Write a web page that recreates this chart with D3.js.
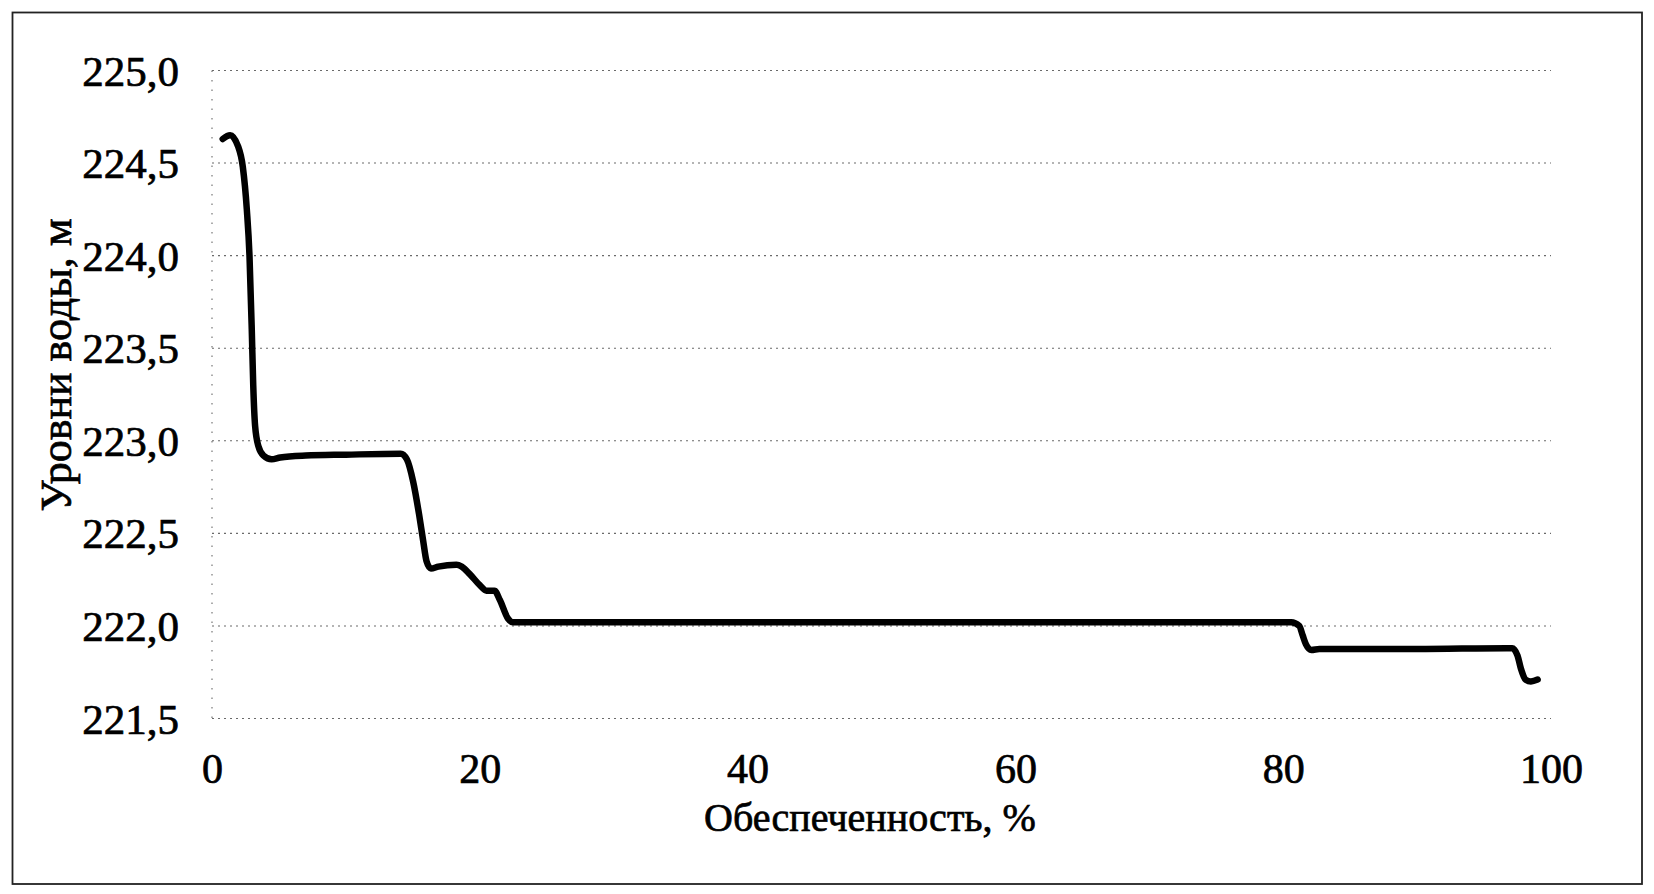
<!DOCTYPE html>
<html>
<head>
<meta charset="utf-8">
<script src="https://cdn.jsdelivr.net/npm/d3@7"></script>
<style>
  html, body { margin: 0; padding: 0; background: #fff; }
  svg { display: block; }
  text { font-family: "Liberation Serif", "Times New Roman", serif; fill: #000; stroke: #000; stroke-width: 0.7px; }
</style>
</head>
<body>
<svg id="chart" width="1654" height="894"></svg>
<script>
// ---- Data ----
const percent = [0.8, 1.35, 1.95, 2.3, 2.6, 2.8, 2.97, 3.08, 3.22, 3.47, 3.85, 4.45, 5.1, 7.0, 10.0, 14.1,
  14.55, 15.02, 15.47, 15.77, 16.02, 16.35, 16.9, 18.25, 18.65, 19.25, 20.0, 20.5, 21.1, 21.5, 22.1, 22.45,
  23.0, 40.0, 60.0, 80.6, 81.2, 81.45, 81.7, 82.1, 82.7, 90.0, 96.7, 97.1, 97.5, 97.75, 98.1, 98.5, 99.0];
const level = [224.63, 224.65, 224.59, 224.48, 224.25, 224.0, 223.6, 223.3, 223.08, 222.97, 222.92, 222.9, 222.91, 222.92, 222.925, 222.93,
  222.9, 222.78, 222.6, 222.46, 222.35, 222.31, 222.32, 222.33, 222.32, 222.28, 222.22, 222.19, 222.19, 222.14, 222.04, 222.02,
  222.02, 222.02, 222.02, 222.02, 222.0, 221.95, 221.9, 221.87, 221.875, 221.875, 221.88, 221.88, 221.84, 221.77, 221.71, 221.70, 221.71];
const xTicks = [0, 20, 40, 60, 80, 100];
const yTicks = [221.5, 222.0, 222.5, 223.0, 223.5, 224.0, 224.5, 225.0];
const xTitle = "Обеспеченность, %";
const yTitle = "Уровни воды, м";

// ---- Layout ----
const svg = d3.select("#chart");
const x = d3.scaleLinear().domain([0, 100]).range([212, 1551]);
const y = d3.scaleLinear().domain([221.5, 225]).range([718.5, 70.5]);
const fmt = v => d3.format(".1f")(v).replace(".", ",");

// outer frame
svg.append("rect")
  .attr("x", 12.5).attr("y", 12.5)
  .attr("width", 1629.5).attr("height", 871.5)
  .attr("fill", "none").attr("stroke", "#222").attr("stroke-width", 1.8);

// horizontal gridlines (dotted)
svg.append("g").selectAll("line").data(yTicks).join("line")
  .attr("x1", x(0)).attr("x2", x(100))
  .attr("y1", d => y(d)).attr("y2", d => y(d))
  .attr("stroke", "#6a6a6a").attr("stroke-width", 1.1)
  .attr("stroke-dasharray", "2,4");

// left vertical dotted axis line
svg.append("line")
  .attr("x1", x(0)).attr("x2", x(0))
  .attr("y1", y(225)).attr("y2", y(221.5))
  .attr("stroke", "#6a6a6a").attr("stroke-width", 1.1)
  .attr("stroke-dasharray", "1.5,8");

// y axis labels
const yAxis = d3.axisLeft(y).tickValues(yTicks).tickFormat(fmt).tickSize(0).tickPadding(33);
const gy = svg.append("g").attr("transform", `translate(${x(0)},0)`).call(yAxis);
gy.select(".domain").remove();
gy.selectAll("text")
  .style("font-family", '"Liberation Serif", serif')
  .attr("font-size", 43).attr("fill", "#000").attr("dy", "0.34em");

// x axis labels
const xAxis = d3.axisBottom(x).tickValues(xTicks).tickFormat(d3.format("d")).tickSize(0).tickPadding(0);
const gx = svg.append("g").attr("transform", `translate(0,${y(221.5)})`).call(xAxis);
gx.select(".domain").remove();
gx.selectAll("text")
  .style("font-family", '"Liberation Serif", serif')
  .attr("font-size", 42).attr("fill", "#000")
  .attr("y", 64.5).attr("dy", 0);

// axis titles
svg.append("text")
  .attr("x", 870).attr("y", 831)
  .attr("text-anchor", "middle")
  .attr("font-size", 40)
  .text(xTitle);

svg.append("text")
  .attr("transform", "translate(71,365) rotate(-90)")
  .attr("text-anchor", "middle")
  .attr("font-size", 44)
  .text(yTitle);

// data line
const data = percent.map((p, i) => ({ p, v: level[i] }));
const line = d3.line().x(d => x(d.p)).y(d => y(d.v)).curve(d3.curveMonotoneX);
svg.append("path")
  .datum(data)
  .attr("d", line)
  .attr("fill", "none")
  .attr("stroke", "#000")
  .attr("stroke-width", 6.5)
  .attr("stroke-linejoin", "round")
  .attr("stroke-linecap", "round");
</script>
</body>
</html>
